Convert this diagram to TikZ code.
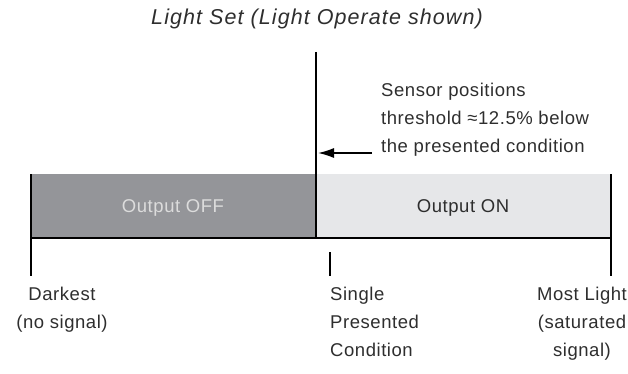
\documentclass[tikz,border=0pt]{standalone}
\usepackage{fontspec}
\setmainfont{Liberation Sans}[LetterSpace=3]
\newfontfamily\titlefont{Liberation Sans}[LetterSpace=5]
\usetikzlibrary{arrows.meta}
\definecolor{darkbar}{HTML}{949599}
\definecolor{lightbar}{HTML}{E6E7E9}
\definecolor{txtgray}{HTML}{2E2E2E}
\definecolor{offtxt}{HTML}{DCDCDC}

\begin{document}
\begin{tikzpicture}[
	x=1pt,y=-1pt,
	every node/.style={inner sep=0pt,text=txtgray,font=\fontsize{18.5}{28}\selectfont},
	edge line/.style={line width=1.1pt,black},
	lbl/.style={align=center,anchor=north}
	]
	\useasboundingbox (0,0) rectangle (628,374);
	% the bar
	\fill[darkbar] (31,174) rectangle (316,238);
	\fill[lightbar] (316,174) rectangle (611,238);
	\coordinate (top) at (316,52);
	\coordinate (mid) at (316,238);
	\coordinate (lefttop) at (31,174);
	\coordinate (leftbot) at (31,276);
	\coordinate (righttop) at (611,174);
	\coordinate (rightbot) at (611,276);
	\coordinate (baseleft) at (31,238);
	\coordinate (baseright) at (611,238);
	\coordinate (ticktop) at (330,252);
	\coordinate (tickbot) at (330,276);
	\draw[edge line] (top) -- (mid);
	\draw[edge line] (lefttop) -- (leftbot);
	\draw[edge line] (righttop) -- (rightbot);
	\draw[edge line] (baseleft) -- (baseright);
	\draw[edge line] (ticktop) -- (tickbot);
	% labels
	\node (title) at (317,19) {\titlefont\fontsize{21.5}{22}\selectfont\itshape Light Set (Light Operate shown)};
	\node (offlab) at (173,208) [text=offtxt] {Output OFF};
	\node (onlab) at (463,208) {Output ON};
	\node (sensor) at (381,120) [anchor=west,align=left] {Sensor positions\\threshold ≈12.5\% below\\the presented condition};
	\coordinate (arrowend) at (318,153);
	\draw[line width=1.4pt,-{Latex[length=16pt,width=10pt]}] (sensor.west |- arrowend) ++(-9,0) coordinate (arrowstart) -- (arrowend);
	\node (dark) at (62,287) [lbl] {Darkest\\(no signal)};
	\node (single) at (330,287) [anchor=north west,align=left] {Single\\Presented\\Condition};
	\node (most) at (582,287) [lbl] {Most Light\\(saturated\\signal)};
\end{tikzpicture}
\end{document}
